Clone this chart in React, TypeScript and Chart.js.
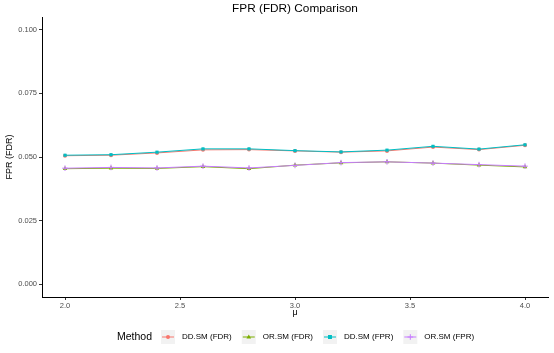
import React, { useEffect, useRef } from "react";
import { Chart, registerables } from "chart.js";

Chart.register(...registerables);

const mu = [2.0, 2.2, 2.4, 2.6, 2.8, 3.0, 3.2, 3.4, 3.6, 3.8, 4.0];
const ddFdr = [0.0505, 0.0507, 0.0516, 0.0528, 0.0529, 0.0524, 0.0519, 0.0524, 0.0539, 0.0529, 0.0546];
const orFdr = [0.0454, 0.0456, 0.0455, 0.0462, 0.0454, 0.0468, 0.0477, 0.0481, 0.0476, 0.0468, 0.0461];
const ddFpr = [0.0507, 0.0509, 0.0519, 0.0532, 0.0532, 0.0525, 0.0520, 0.0527, 0.0542, 0.0531, 0.0548];
const orFpr = [0.0456, 0.0459, 0.0457, 0.0464, 0.0457, 0.0467, 0.0478, 0.0481, 0.0476, 0.0470, 0.0464];

const seriesNames = ["DD.SM (FDR)", "OR.SM (FDR)", "DD.SM (FPR)", "OR.SM (FPR)"];
const seriesColors = ["#F8766D", "#7CAE00", "#00BFC4", "#C77CFF"];
const seriesShapes = ["circle", "triangle", "rect", "cross"];
const seriesRadius = [2, 2.6, 2.2, 2.8];
const seriesValues = [ddFdr, orFdr, ddFpr, orFpr];

const xTicks = [2.0, 2.5, 3.0, 3.5, 4.0];
const yTicks = [0.0, 0.025, 0.05, 0.075, 0.1];

const chartTitle = "FPR (FDR) Comparison";
const xTitle = "μ";
const yTitle = "FPR (FDR)";
const legendTitle = "Method";

const FONT = "'Liberation Sans', Arial, Helvetica, sans-serif";

function drawShape(ctx: CanvasRenderingContext2D, shape: string, x: number, y: number, r: number, color: string) {
  ctx.save();
  ctx.fillStyle = color;
  ctx.strokeStyle = color;
  ctx.lineWidth = 1;
  ctx.beginPath();
  if (shape === "circle") {
    ctx.arc(x, y, r, 0, Math.PI * 2);
    ctx.fill();
  } else if (shape === "triangle") {
    ctx.moveTo(x, y - r);
    ctx.lineTo(x + r * 0.9, y + r * 0.6);
    ctx.lineTo(x - r * 0.9, y + r * 0.6);
    ctx.closePath();
    ctx.fill();
  } else if (shape === "rect") {
    ctx.rect(x - r * 0.9, y - r * 0.9, r * 1.8, r * 1.8);
    ctx.fill();
  } else {
    ctx.moveTo(x - r, y);
    ctx.lineTo(x + r, y);
    ctx.moveTo(x, y - r);
    ctx.lineTo(x, y + r);
    ctx.stroke();
  }
  ctx.restore();
}

const decorPlugin = {
  id: "decor",
  afterDraw(chart: any) {
    const ctx: CanvasRenderingContext2D = chart.ctx;
    const area = chart.chartArea;
    ctx.save();
    // title
    ctx.fillStyle = "#000";
    ctx.font = `11.8px ${FONT}`;
    ctx.textAlign = "center";
    ctx.textBaseline = "middle";
    ctx.fillText(chartTitle, (area.left + area.right) / 2, 9);

    // legend
    const cy = 337;
    ctx.textAlign = "left";
    ctx.font = `10.5px ${FONT}`;
    ctx.fillStyle = "#000";
    ctx.fillText(legendTitle, 117, cy);
    let x = 161;
    ctx.font = `8px ${FONT}`;
    for (let i = 0; i < seriesNames.length; i++) {
      ctx.fillStyle = "#F2F2F2";
      ctx.fillRect(x, cy - 7, 14, 14);
      ctx.strokeStyle = seriesColors[i];
      ctx.lineWidth = 1;
      ctx.beginPath();
      ctx.moveTo(x + 1, cy);
      ctx.lineTo(x + 13, cy);
      ctx.stroke();
      drawShape(ctx, seriesShapes[i], x + 7, cy, seriesRadius[i], seriesColors[i]);
      ctx.fillStyle = "#000";
      ctx.fillText(seriesNames[i], x + 21, cy);
      x += 21 + ctx.measureText(seriesNames[i]).width + 10;
    }
    ctx.restore();
  },
};

export default function App() {
  const ref = useRef<HTMLCanvasElement>(null);
  useEffect(() => {
    if (!ref.current) return;
    const datasets = seriesNames.map((name, i) => ({
      label: name,
      data: mu.map((m, j) => ({ x: m, y: seriesValues[i][j] })),
      borderColor: seriesColors[i],
      backgroundColor: seriesColors[i],
      borderWidth: 1,
      pointStyle: seriesShapes[i] as any,
      pointRadius: seriesRadius[i],
      pointBorderWidth: seriesShapes[i] === "cross" ? 1 : 0,
      pointBorderColor: seriesColors[i],
      pointBackgroundColor: seriesColors[i],
      tension: 0,
      order: seriesNames.length - i,
    }));
    const tickFont = { size: 7.5, family: FONT };
    const chart = new Chart(ref.current, {
      type: "line",
      data: { datasets },
      plugins: [decorPlugin],
      options: {
        animation: false,
        responsive: false,
        layout: { padding: { top: 17, bottom: 30, left: 0, right: 6 } },
        plugins: { legend: { display: false }, tooltip: { enabled: false }, title: { display: false } },
        scales: {
          x: {
            type: "linear",
            min: 1.9,
            max: 4.1,
            afterBuildTicks: (s: any) => {
              s.ticks = xTicks.map((v) => ({ value: v }));
            },
            afterFit: (s: any) => {
              s.height = 26;
            },
            ticks: {
              callback: (v: any) => Number(v).toFixed(1),
              font: tickFont,
              color: "#4D4D4D",
              padding: 1,
              maxRotation: 0,
              autoSkip: false,
            },
            grid: { display: true, drawOnChartArea: false, drawTicks: true, tickLength: 3, color: "#333333", lineWidth: 1 },
            border: { display: true, color: "#000", width: 1 },
            title: { display: true, text: xTitle, color: "#000", font: { size: 9, family: FONT }, padding: { top: 0, bottom: 4.6 } },
          },
          y: {
            type: "linear",
            min: -0.005,
            max: 0.105,
            afterBuildTicks: (s: any) => {
              s.ticks = yTicks.map((v) => ({ value: v }));
            },
            afterFit: (s: any) => {
              s.width = 42;
            },
            ticks: {
              callback: (v: any) => Number(v).toFixed(3),
              font: tickFont,
              color: "#4D4D4D",
              padding: 2,
              autoSkip: false,
            },
            grid: { display: true, drawOnChartArea: false, drawTicks: true, tickLength: 3, color: "#333333", lineWidth: 1 },
            border: { display: true, color: "#000", width: 1 },
            title: { display: true, text: yTitle, color: "#000", font: { size: 9, family: FONT }, padding: { top: 4, bottom: 0 } },
          },
        },
      } as any,
    });
    return () => chart.destroy();
  }, []);
  return (
    <canvas
      ref={ref}
      width={554}
      height={353}
      style={{ position: "fixed", left: 0, top: 0, width: 554, height: 353, background: "#fff" }}
    />
  );
}
